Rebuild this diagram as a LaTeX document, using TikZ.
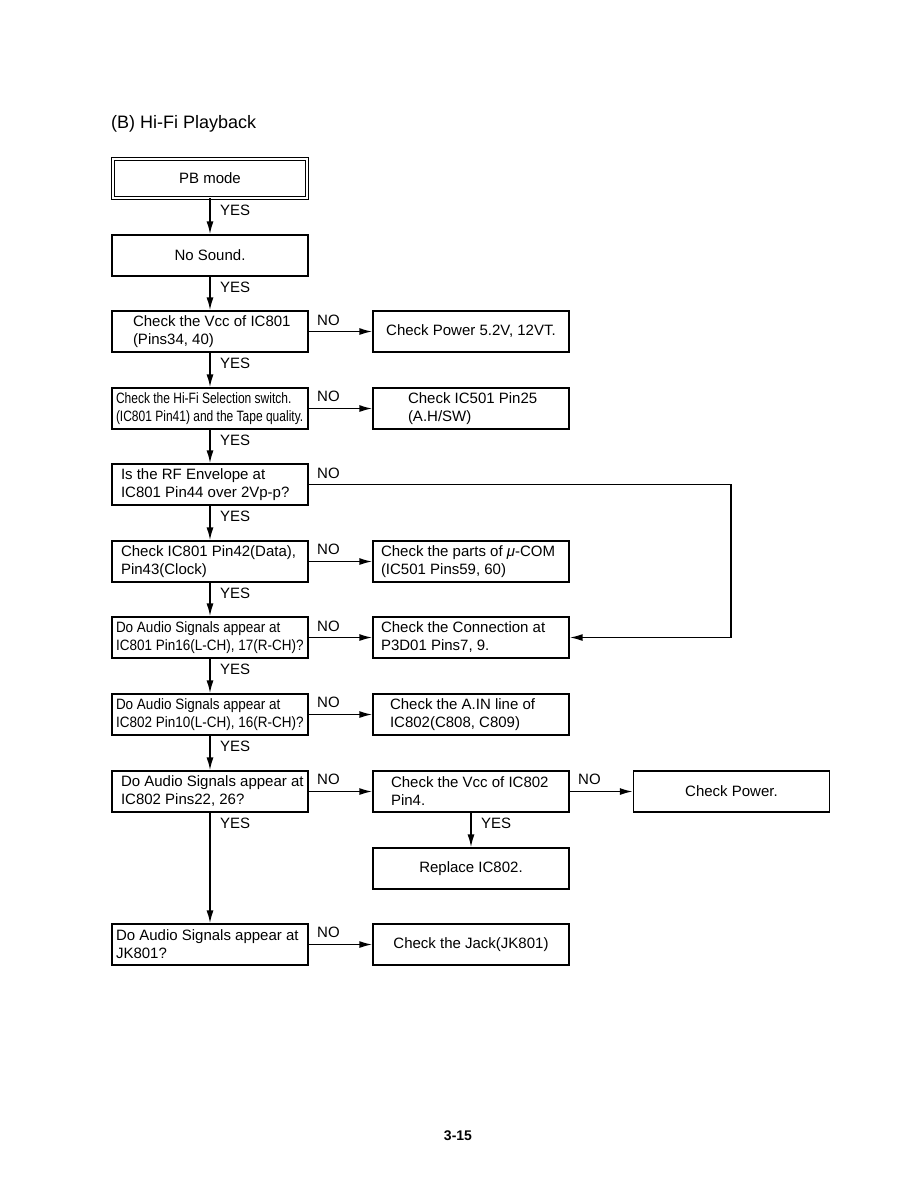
\documentclass[tikz,border=0pt]{standalone}
\usepackage{fontspec}
\setmainfont{Liberation Sans}
\newfontfamily\narrowa[FakeStretch=0.8]{Liberation Sans}
\newfontfamily\narrowb[FakeStretch=0.9]{Liberation Sans}
\usetikzlibrary{arrows.meta}
\newcommand\twoline[3]{\hspace*{#1pt}#2\\\hspace*{#1pt}#3}
\begin{document}
\begin{tikzpicture}[x=1pt,y=-1pt,
  box/.style={draw,line width=1.4pt,minimum width=196pt,minimum height=41pt,
    inner ysep=0pt,inner xsep=0pt,align=center,font=\fontsize{15}{18}\selectfont},
  lbox/.style={box,align=flush left,text width=196pt},
  arr/.style={line width=1.6pt,-{Latex[length=13pt,width=7pt]}},
  lab/.style={anchor=west,inner sep=0pt,font=\fontsize{15}{18}\selectfont}]
\useasboundingbox (0,0) rectangle (915,1191);
\node[anchor=west,inner sep=0pt,font=\fontsize{18}{21}\selectfont] (title) at (111,124) {(B) Hi-Fi Playback};
% left column
\node[box,double,double distance=1.6pt,line width=0.9pt,minimum width=194pt,minimum height=39pt] (pb) at (210,178.5) {PB mode};
\node[box] (ns) at (210,255.5) {No Sound.};
\node[lbox] (vcc) at (210,331.5) {\twoline{21}{Check the Vcc of IC801}{(Pins34, 40)}};
\node[lbox,font=\narrowa\fontsize{15}{18}\selectfont] (hifi) at (210,408.5) {\twoline{4}{Check the Hi-Fi Selection switch.}{(IC801 Pin41) and the Tape quality.}};
\node[lbox] (rf) at (210,484.5) {\twoline{9}{Is the RF Envelope at}{IC801 Pin44 over 2Vp-p?}};
\node[lbox] (p42) at (210,561.5) {\twoline{9}{Check IC801 Pin42(Data),}{Pin43(Clock)}};
\node[lbox,font=\narrowb\fontsize{15}{18}\selectfont] (a801) at (210,637.5) {\twoline{4}{Do Audio Signals appear at}{IC801 Pin16(L-CH), 17(R-CH)?}};
\node[lbox,font=\narrowb\fontsize{15}{18}\selectfont] (a802) at (210,714.5) {\twoline{4}{Do Audio Signals appear at}{IC802 Pin10(L-CH), 16(R-CH)?}};
\node[lbox] (p22) at (210,791.5) {\twoline{9}{Do Audio Signals appear at}{IC802 Pins22, 26?}};
\node[lbox] (jk) at (210,944.5) {\twoline{4}{Do Audio Signals appear at}{JK801?}};
% right column
\node[box] (pw) at (471,331.5) {Check Power 5.2V, 12VT.};
\node[lbox] (ic501) at (471,408.5) {\twoline{35}{Check IC501 Pin25}{(A.H/SW)}};
\node[lbox] (mu) at (471,561.5) {\twoline{8}{Check the parts of {\itshape μ}-COM}{(IC501 Pins59, 60)}};
\node[lbox] (conn) at (471,637.5) {\twoline{8}{Check the Connection at}{P3D01 Pins7, 9.}};
\node[lbox] (ain) at (471,714.5) {\twoline{17}{Check the A.IN line of}{IC802(C808, C809)}};
\node[lbox] (v802) at (471,791.5) {\twoline{18}{Check the Vcc of IC802}{Pin4.}};
\node[box] (rep) at (471,868.5) {Replace IC802.};
\node[box] (jack) at (471,944.5) {Check the Jack(JK801)};
\node[box] (cp) at (731.5,791.5) {Check Power.};
% vertical YES arrows
\foreach \a/\b in {pb/ns,ns/vcc,vcc/hifi,hifi/rf,rf/p42,p42/a801,a801/a802,a802/p22,p22/jk,v802/rep}
  \draw[arr] (\a.south) -- (\b.north);
\foreach \n/\y in {pb/210,ns/287,vcc/363,hifi/440,rf/516,p42/593,a801/669,a802/746,p22/823}
  \node[lab] (y\n) at (220,\y) {YES};
\node[lab] (yv802) at (481,823) {YES};
% horizontal NO arrows
\foreach \a/\b in {vcc/pw,hifi/ic501,p42/mu,a801/conn,a802/ain,p22/v802,jk/jack,v802/cp}
  \draw[arr] (\a.east) -- (\b.west);
\foreach \n/\x/\y in {vcc/317/320,hifi/317/396,rf/317/473,p42/317/549,a801/317/626,a802/317/702,p22/317/779,jk/317/932,v802/578/779}
  \node[lab] (n\n) at (\x,\y) {NO};
\coordinate (c1) at (731,484.5);
\coordinate (c2) at (731,637.5);
\draw[arr] (rf.east) -- (c1) -- (c2) -- (conn.east);
\node[inner sep=0pt,font=\bfseries\fontsize{14}{17}\selectfont] (page) at (458,1136) {3-15};
\end{tikzpicture}
\end{document}
